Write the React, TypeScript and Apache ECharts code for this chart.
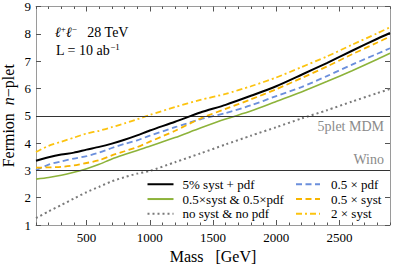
import React, { useEffect, useRef } from "react";
import * as echarts from "echarts";

const masses = [100, 200, 300, 400, 500, 600, 700, 800, 900, 1000, 1200, 1400, 1600, 1800, 2000, 2200, 2400, 2600, 2800, 2900];
const systPdf5 = [3.35, 3.48, 3.58, 3.65, 3.76, 3.86, 3.98, 4.12, 4.28, 4.46, 4.78, 5.12, 5.4, 5.73, 6.08, 6.5, 6.93, 7.38, 7.82, 8.03];
const halfBoth = [2.68, 2.74, 2.82, 2.93, 3.06, 3.22, 3.42, 3.58, 3.73, 3.88, 4.2, 4.55, 4.88, 5.17, 5.52, 5.87, 6.25, 6.65, 7.07, 7.29];
const noSystNoPdf = [1.25, 1.5, 1.73, 1.97, 2.2, 2.4, 2.6, 2.75, 2.88, 2.98, 3.3, 3.62, 3.95, 4.27, 4.58, 4.9, 5.2, 5.52, 5.83, 5.98];
const halfPdf = [3.0, 3.21, 3.33, 3.43, 3.52, 3.65, 3.82, 3.97, 4.1, 4.27, 4.58, 4.87, 5.1, 5.38, 5.72, 6.05, 6.45, 6.87, 7.27, 7.47];
const halfSyst = [3.1, 3.11, 3.13, 3.18, 3.27, 3.37, 3.55, 3.7, 3.85, 4.05, 4.45, 4.9, 5.25, 5.6, 5.97, 6.38, 6.8, 7.25, 7.68, 7.9];
const twoSyst = [3.67, 3.9, 4.05, 4.2, 4.35, 4.45, 4.58, 4.72, 4.87, 5.03, 5.32, 5.58, 5.8, 6.08, 6.4, 6.78, 7.17, 7.6, 8.02, 8.24];

const xMajor = [500, 1000, 1500, 2000, 2500];
const xMinor = [100, 200, 300, 400, 600, 700, 800, 900, 1100, 1200, 1300, 1400, 1600, 1700, 1800, 1900, 2100, 2200, 2300, 2400, 2600, 2700, 2800, 2900];
const refLines = [
  { value: 5, label: "5plet MDM", pos: "insideEndBottom" },
  { value: 3, label: "Wino", pos: "insideEndTop" },
];

const SERIF = "Liberation Serif";
const FRAME = "#9a9a9a";

function pairs(vals: number[]) {
  return masses.map((m, i) => [m, vals[i]]);
}

export default function App() {
  const ref = useRef<HTMLDivElement>(null);
  useEffect(() => {
    document.body.style.margin = "0";
    if (!ref.current) return;
    const chart = echarts.init(ref.current, undefined, { renderer: "svg" });
    const xBase = {
      type: "value",
      min: 100,
      max: 2900,
      splitLine: { show: false },
    };
    const yBase = {
      type: "value",
      min: 1,
      max: 9,
      interval: 1,
      splitLine: { show: false },
    };
    const mkSeries = (name: string, vals: number[], color: string, width: number, type: any, extra: any = {}) => ({
      name,
      type: "line",
      data: pairs(vals),
      showSymbol: false,
      symbol: "none",
      smooth: 0.25,
      xAxisIndex: 0,
      yAxisIndex: 0,
      lineStyle: { color, width, type },
      itemStyle: { color },
      z: 3,
      ...extra,
    });
    const legendCommon = {
      orient: "vertical",
      itemHeight: 10,
      itemGap: 0.3,
      padding: 0,
      selectedMode: false,
      itemStyle: { opacity: 0 },
    };
    chart.setOption({
      animation: false,
      textStyle: { fontFamily: SERIF },
      grid: { left: 36, right: 9, top: 6.5, bottom: 44, containLabel: false, outerBoundsMode: "none" },
      xAxis: [
        {
          ...xBase,
          position: "bottom",
          axisLine: { show: true, lineStyle: { color: FRAME, width: 1 } },
          axisTick: { show: true, inside: true, length: 5, customValues: xMajor, lineStyle: { color: "#555" } },
          axisLabel: {
            show: true,
            customValues: xMajor,
            color: "#000",
            fontSize: 13,
            fontFamily: SERIF,
            margin: 6,
            formatter: (v: number) => String(v),
          },
          name: "Mass   [GeV]",
          nameLocation: "middle",
          nameGap: 23,
          nameMoveOverlap: false,
          nameTextStyle: { fontSize: 16, color: "#000", fontFamily: SERIF },
        },
        {
          ...xBase,
          position: "bottom",
          axisLine: { show: false },
          axisTick: { show: true, inside: true, length: 2.5, customValues: xMinor, lineStyle: { color: "#555" } },
          axisLabel: { show: false },
        },
        {
          ...xBase,
          position: "top",
          axisLine: { show: true, lineStyle: { color: FRAME, width: 1 } },
          axisTick: { show: true, inside: true, length: 5, customValues: xMajor, lineStyle: { color: "#555" } },
          axisLabel: { show: false },
        },
        {
          ...xBase,
          position: "top",
          axisLine: { show: false },
          axisTick: { show: true, inside: true, length: 2.5, customValues: xMinor, lineStyle: { color: "#555" } },
          axisLabel: { show: false },
        },
      ],
      yAxis: [
        {
          ...yBase,
          position: "left",
          axisLine: { show: true, lineStyle: { color: FRAME, width: 1 } },
          axisTick: { show: true, inside: true, length: 5, lineStyle: { color: "#555" } },
          axisLabel: { show: true, color: "#000", fontSize: 13, fontFamily: SERIF, margin: 5 },
          name: "{a|Fermion  }{b|n}{a|\u2212plet}",
          nameLocation: "middle",
          nameGap: 20,
          nameMoveOverlap: false,
          nameTextStyle: {
            rich: {
              a: { fontSize: 16, fontFamily: SERIF, color: "#000" },
              b: { fontSize: 16, fontFamily: SERIF, fontStyle: "italic", color: "#000" },
            },
          },
        },
        {
          ...yBase,
          position: "right",
          axisLine: { show: true, lineStyle: { color: FRAME, width: 1 } },
          axisTick: { show: true, inside: true, length: 5, lineStyle: { color: "#555" } },
          axisLabel: { show: false },
        },
      ],
      legend: [
        {
          ...legendCommon,
          left: 146.5,
          top: 177,
          itemWidth: 26,
          textStyle: { fontSize: 13, lineHeight: 14.5, fontFamily: SERIF, color: "#000", padding: [0, 0, 0, 4] },
          data: ["5% syst + pdf", "0.5\u00d7syst & 0.5\u00d7pdf", "no syst & no pdf"],
        },
        {
          ...legendCommon,
          left: 295,
          top: 177,
          itemWidth: 24,
          textStyle: { fontSize: 13, lineHeight: 14.5, fontFamily: SERIF, color: "#000", padding: [0, 0, 0, 6] },
          data: ["0.5 \u00d7 pdf", "0.5 \u00d7 syst", "2 \u00d7 syst"],
        },
      ],
      graphic: [
        {
          type: "text",
          left: 55,
          top: 24,
          style: {
            text: "{i|\u2113}{s|+}{i|\u2113}{s|\u2212}{n|   28 TeV}",
            rich: {
              i: { fontSize: 14, fontFamily: "DejaVu Serif", fontStyle: "italic", fill: "#000", lineHeight: 16 },
              s: { fontSize: 9, fontFamily: SERIF, fill: "#000", verticalAlign: "top", lineHeight: 16 },
              n: { fontSize: 14, fontFamily: SERIF, fill: "#000", lineHeight: 16 },
            },
          },
        },
        {
          type: "text",
          left: 56,
          top: 42,
          style: {
            text: "{n|L = 10 ab}{s|\u22121}",
            rich: {
              n: { fontSize: 14, fontFamily: SERIF, fill: "#000", lineHeight: 16 },
              s: { fontSize: 9, fontFamily: SERIF, fill: "#000", verticalAlign: "top", lineHeight: 16 },
            },
          },
        },
      ],
      series: [
        mkSeries("5% syst + pdf", systPdf5, "#000000", 2, "solid", {
          z: 5,
          markLine: {
            silent: true,
            symbol: ["none", "none"],
            lineStyle: { color: "#333", width: 1, type: "solid" },
            label: {
              show: true,
              color: "#8a8a8a",
              fontSize: 14,
              fontFamily: SERIF,
              distance: [6, 4],
              formatter: (p: any) => p.name,
            },
            data: refLines.map((r) => ({ yAxis: r.value, name: r.label, label: { position: r.pos } })),
          },
        }),
        mkSeries("0.5\u00d7syst & 0.5\u00d7pdf", halfBoth, "#8db33a", 1.6, "solid"),
        mkSeries("no syst & no pdf", noSystNoPdf, "#7a7a7a", 2, [2, 3]),
        mkSeries("0.5 \u00d7 pdf", halfPdf, "#6b8fdc", 1.8, [6, 3.5]),
        mkSeries("0.5 \u00d7 syst", halfSyst, "#f7b500", 1.8, [6, 3.5]),
        mkSeries("2 \u00d7 syst", twoSyst, "#fcc30f", 1.8, [6, 3, 2, 3]),
      ],
    });
    return () => chart.dispose();
  }, []);
  return <div ref={ref} style={{ width: 399, height: 269 }} />;
}
